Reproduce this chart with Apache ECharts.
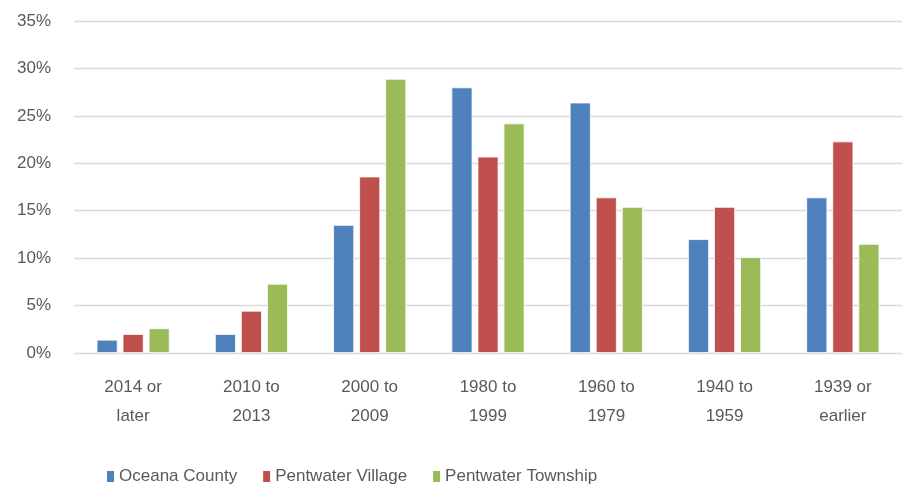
<!DOCTYPE html>
<html>
<head>
<meta charset="utf-8">
<script src="https://cdn.jsdelivr.net/npm/echarts@6/dist/echarts.min.js"></script>
<style>
  html, body { margin: 0; padding: 0; background: #ffffff; }
  #chart { width: 903px; height: 487px; }
</style>
</head>
<body>
<div id="chart"></div>
<script>
// 类别（建筑年份）
var categories = ['2014 or\nlater', '2010 to\n2013', '2000 to\n2009', '1980 to\n1999', '1960 to\n1979', '1940 to\n1959', '1939 or\nearlier'];
var seriesNames = ['Oceana County', 'Pentwater Village', 'Pentwater Township'];
// 各系列数值（%）
var oceanaCounty = [1.4, 2.0, 13.5, 28.0, 26.4, 12.0, 16.4];
var pentwaterVillage = [2.0, 4.45, 18.6, 20.7, 16.4, 15.4, 22.3];
var pentwaterTownship = [2.6, 7.3, 28.9, 24.2, 15.4, 10.1, 11.5];
var colors = ['#4F81BD', '#C0504D', '#9BBB59'];

var FONT = '"Liberation Sans", Arial, sans-serif';
var TEXT = '#595959';

var myChart = echarts.init(document.getElementById('chart'), null, {renderer: 'canvas'});

function makeSeries(name, data) {
    return {
        name: name,
        type: 'bar',
        data: data,
        barWidth: 21,
        barGap: '24%',
        itemStyle: {borderColor: '#ffffff', borderWidth: 0.8}
    };
}

myChart.setOption({
    color: colors,
    animation: false,
    grid: {left: 74, right: 1, top: 21, bottom: 134, containLabel: false},
    legend: {
        top: 463,
        left: 100,
        itemWidth: 9,
        itemHeight: 13,
        itemGap: 24,
        icon: 'rect',
        textStyle: {color: TEXT, fontFamily: FONT, fontSize: 17, padding: [0, 0, 0, -1]},
        data: seriesNames
    },
    xAxis: {
        type: 'category',
        data: categories,
        axisLine: {show: false},
        axisTick: {show: false},
        axisLabel: {
            color: TEXT, fontFamily: FONT, fontSize: 17,
            lineHeight: 29, margin: 20, interval: 0
        }
    },
    yAxis: {
        type: 'value',
        min: 0,
        max: 35,
        interval: 5,
        axisLine: {show: false},
        axisTick: {show: false},
        splitLine: {lineStyle: {color: '#d9d9d9', width: 1.4}},
        axisLabel: {
            color: TEXT, fontFamily: FONT, fontSize: 17, margin: 23,
            formatter: function (v) { return v + '%'; }
        }
    },
    series: [
        makeSeries(seriesNames[0], oceanaCounty),
        makeSeries(seriesNames[1], pentwaterVillage),
        makeSeries(seriesNames[2], pentwaterTownship)
    ]
});
</script>
</body>
</html>
